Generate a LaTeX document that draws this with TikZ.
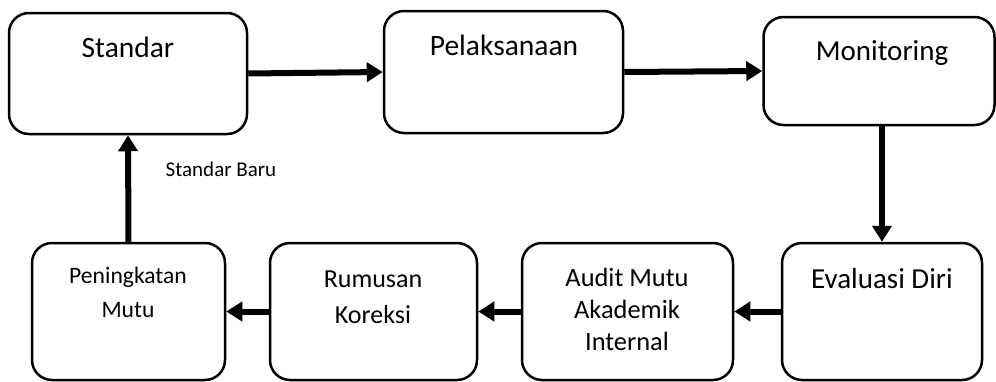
\documentclass[tikz,border=0pt]{standalone}
\usepackage{fontspec}
\setmainfont{Carlito}
\usetikzlibrary{arrows.meta,calc}
\tikzset{
  box/.style={draw=black, line width=2.5pt, rounded corners=20pt, inner sep=0pt, fill=white},
  flow/.style={line width=6pt, -{Triangle[length=16pt,width=19pt]}},
  txt/.style={anchor=base, inner sep=0pt, align=center}
}
\begin{document}
\begin{tikzpicture}[x=1pt,y=-1pt]
\useasboundingbox (0,0) rectangle (996,381);
% boxes
\node[box, minimum width=238pt, minimum height=121pt] (std) at (128,73.5) {};
\node[box, minimum width=239pt, minimum height=122pt] (pel) at (503.5,72) {};
\node[box, minimum width=231pt, minimum height=108pt] (mon) at (879,71) {};
\node[box, minimum width=200pt, minimum height=137pt] (eval) at (882,311.5) {};
\node[box, minimum width=211pt, minimum height=137pt] (audit) at (627.5,311.5) {};
\node[box, minimum width=207pt, minimum height=137pt] (rum) at (373.5,311.5) {};
\node[box, minimum width=193pt, minimum height=137pt] (pen) at (128.5,311.5) {};
% texts (multi-line nodes are anchored at the baseline of their last line)
\node[txt, font=\fontsize{29.5}{35}\selectfont] (stdT) at (128,57) {Standar};
\node[txt, font=\fontsize{29.5}{35}\selectfont] (pelT) at (504,55) {Pelaksanaan};
\node[txt, font=\fontsize{29}{35}\selectfont] (monT) at (882,60) {Monitoring};
\node[txt, font=\fontsize{29}{35}\selectfont] (evalT) at (882,288) {Evaluasi Diri};
\node[txt, font=\fontsize{26.4}{32}\selectfont] (auditT) at (627,350) {Audit Mutu\\Akademik\\Internal};
\node[txt, font=\fontsize{26}{36}\selectfont] (rumT) at (373,323) {Rumusan\\Koreksi};
\node[txt, font=\fontsize{23.6}{34}\selectfont] (penT) at (128,317) {Peningkatan\\Mutu};
\node[txt, font=\fontsize{21}{25}\selectfont] (baru) at (221,176) {Standar Baru};
% connectors
\draw[flow] (std.east) -- (pel.west);
\draw[flow] (pel.east) -- (mon.west);
\draw[flow] (eval.north |- mon.south) -- (eval.north);
\draw[flow] (eval.west) -- (audit.east);
\draw[flow] (audit.west) -- (rum.east);
\draw[flow] (rum.west) -- (pen.east);
\draw[flow] (pen.north) -- (std.south);
\end{tikzpicture}
\end{document}
